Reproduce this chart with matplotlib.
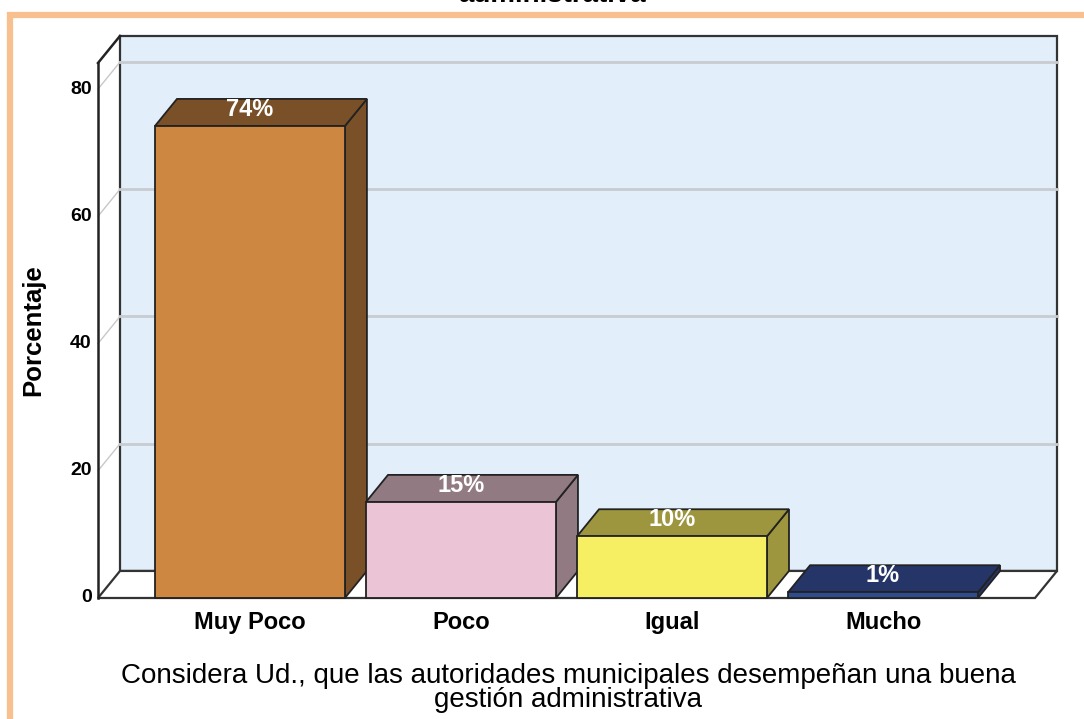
import matplotlib
matplotlib.use("Agg")
import matplotlib.pyplot as plt
from matplotlib.patches import Polygon, Rectangle

plt.rcParams['font.family'] = ['Liberation Sans', 'DejaVu Sans']

# data
categories = ['Muy Poco', 'Poco', 'Igual', 'Mucho']
percent = [74.2, 15.1, 9.7, 0.9]
front_colors = ['#CD8740', '#EBC5D5', '#F6EE63', '#2E4C8E']
top_colors = ['#7A5028', '#927A83', '#9D963E', '#253568']
yticks = [0, 20, 40, 60, 80]
xlabel = ('Considera Ud., que las autoridades municipales desempeñan una buena\n'
          'gestión administrativa')

fig = plt.figure(figsize=(10.84, 7.19), dpi=100)
ax = fig.add_axes([0.0904, 0.1683, 0.8644, 0.7441])
ax.set_axis_off()
x0, x1 = -0.72, 3.72
ytop = 84.1
ax.set_xlim(x0, x1)
ax.set_ylim(0, ytop)

# depth offset of the 3d box (data units)
dx, dy = 0.1043, 4.25
edge = '#222222'

# back wall
ax.add_patch(Polygon([(x0 + dx, dy), (x1 + dx, dy), (x1 + dx, ytop + dy), (x0 + dx, ytop + dy)],
                     closed=True, facecolor='#E2EEFA', edgecolor='#333333', lw=1.6,
                     clip_on=False, zorder=1))
# gridlines on back wall + left wall connectors
for v in yticks[1:]:
    ax.plot([x0 + dx, x1 + dx], [v + dy, v + dy], color='#C8CCD1', lw=2.0, clip_on=False, zorder=2)
    ax.plot([x0, x0 + dx], [v, v + dy], color='#C8C8C8', lw=1.0, clip_on=False, zorder=2)
# floor
ax.add_patch(Polygon([(x0, 0), (x1, 0), (x1 + dx, dy), (x0 + dx, dy)],
                     closed=True, facecolor='white', edgecolor='#333333', lw=1.6,
                     clip_on=False, zorder=2))
# left wall edges
ax.plot([x0, x0], [0, ytop], color=edge, lw=1.8, clip_on=False, zorder=3)
ax.plot([x0, x0 + dx], [ytop, ytop + dy], color=edge, lw=1.8, clip_on=False, zorder=3)

# bars
w = 0.9
for i, (v, fc, tc) in enumerate(zip(percent, front_colors, top_colors)):
    l, r = i - w / 2, i + w / 2
    side = Polygon([(r, 0), (r + dx, dy), (r + dx, v + dy), (r, v)], closed=True,
                   facecolor=tc, edgecolor=edge, lw=1.3, zorder=4, clip_on=False)
    top = Polygon([(l, v), (r, v), (r + dx, v + dy), (l + dx, v + dy)], closed=True,
                  facecolor=tc, edgecolor=edge, lw=1.3, zorder=4, clip_on=False)
    front = Rectangle((l, 0), w, v, facecolor=fc, edgecolor=edge, lw=1.3, zorder=5, clip_on=False)
    for p in (side, top, front):
        ax.add_patch(p)
    ax.text(i, v + dy * 0.62, '%.0f%%' % v, color='white', fontsize=17, fontweight='bold',
            ha='center', va='center', zorder=6)
    ax.text(i, -3.9, categories[i], fontsize=17, fontweight='bold', ha='center', va='center')

for v in yticks:
    ax.text(x0 - 0.03, v, str(v), fontsize=14, fontweight='bold', ha='right', va='center')

fig.text(33 / 1084, 1 - 330 / 719, 'Porcentaje', rotation=90, fontsize=18.5, fontweight='bold',
         ha='center', va='center')
fig.text(568 / 1084, 1 - 688 / 719, xlabel, fontsize=20, ha='center', va='center',
         linespacing=0.87)
fig.text(552 / 1084, 1 - (-5) / 719, 'administrativa', fontsize=20, fontweight='bold',
         ha='center', va='center')

# orange frame
fig.add_artist(Rectangle((10 / 1084, -0.05), 1.2, 1 - 15 / 719 + 0.05, transform=fig.transFigure,
                         facecolor='none', edgecolor='#F9C08F', lw=4.5))

fig.savefig('out.png', dpi=100)
